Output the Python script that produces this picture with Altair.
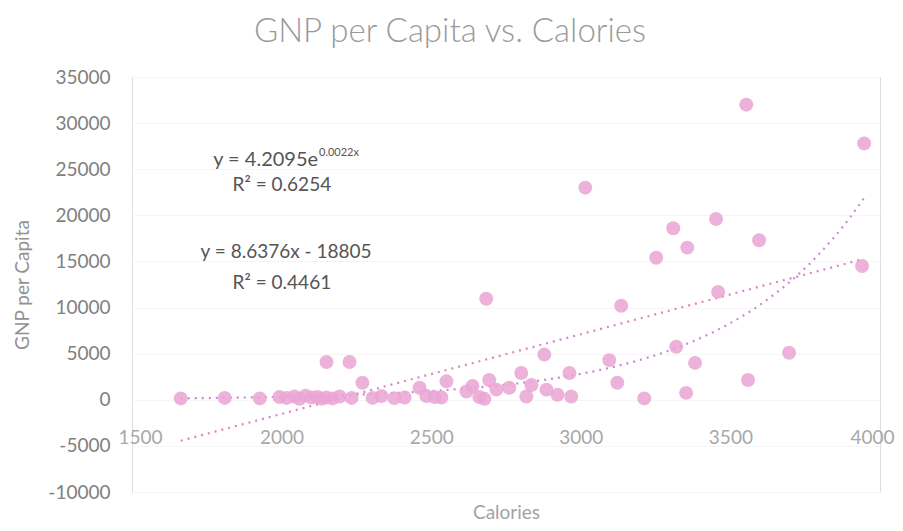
import altair as alt
import pandas as pd

# ---- data ----
calories = [1663, 1810, 1927, 1993, 2017, 2043, 2060, 2080, 2100, 2120,
            2134, 2150, 2170, 2194, 2150, 2227, 2270, 2234, 2304, 2334,
            2377, 2411, 2461, 2484, 2511, 2534, 2551, 2618, 2638, 2661,
            2678, 2694, 2684, 2718, 2761, 2801, 2818, 2835, 2878, 2885,
            2922, 2962, 2968, 3015, 3095, 3122, 3135, 3212, 3252, 3309,
            3319, 3352, 3356, 3382, 3452, 3459, 3553, 3559, 3596, 3696,
            3947, 3940]
gnp = [150, 200, 150, 300, 200, 350, 100, 450, 250, 300,
       120, 250, 150, 350, 4100, 4100, 1850, 200, 200, 400,
       180, 250, 1300, 400, 300, 250, 2000, 900, 1500, 300,
       100, 2150, 10950, 1100, 1300, 2900, 350, 1600, 4900, 1100,
       550, 2900, 350, 23000, 4300, 1850, 10200, 150, 15400, 18600,
       5750, 750, 16500, 4000, 19600, 11700, 32000, 2150, 17300, 5100,
       27800, 14500]

# trendline coefficients as shown on the chart
LIN_SLOPE = 8.6376
LIN_INTERCEPT = -18805
EXP_A = 4.2095
EXP_B = 0.002168  # shown rounded as 0.0022

x_ticks = [1500, 2000, 2500, 3000, 3500, 4000]
y_ticks = [-10000, -5000, 0, 5000, 10000, 15000, 20000, 25000, 30000, 35000]

ann_text = ["y = 4.2095e", "0.0022x", "R² = 0.6254", "y = 8.6376x - 18805", "R² = 0.4461"]
ann_x = [2122, 2125, 2001, 2015, 2001]
ann_y = [26025, 26800, 23313, 16049, 12687]
ann_kind = ["right", "sup", "center", "center", "center"]

df = pd.DataFrame({"Calories": calories, "GNP": gnp})
ann = pd.DataFrame({"text": ann_text, "x": ann_x, "y": ann_y, "kind": ann_kind})
xmin, xmax = min(calories), max(calories)

FONT = "Lato"
x_scale = alt.Scale(domain=[1500, 4000], nice=False, zero=False)
y_scale = alt.Scale(domain=[-10000, 35000], nice=False, zero=False)

x_axis = alt.Axis(title="Calories", values=x_ticks, labelExpr="'' + datum.value",
                  grid=False, labelFlush=True, labelFlushOffset=14, labelOverlap=False,
                  domain=False, ticks=False, tickSize=0, offset=-92, labelPadding=28,
                  labelFontSize=19, labelColor="#a8a8a8", labelFont=FONT,
                  titleFontSize=19, titleColor="#a3a3a3", titleFont=FONT,
                  titleFontWeight="normal", titleY=112, titleBaseline="middle")
y_axis = alt.Axis(title="GNP per Capita", values=y_ticks, labelExpr="'' + datum.value",
                  grid=True, gridColor="#f5f5f5", domain=False, ticks=False, tickSize=0,
                  labelPadding=22, labelFontSize=19, labelColor="#808080", labelFont=FONT,
                  labelOverlap=False,
                  titleFontSize=19, titleColor="#929292", titleFont=FONT,
                  titleFontWeight="normal", titleX=-110, titleBaseline="middle")

points = alt.Chart(df).mark_circle(size=195, color="#eaa5d3", opacity=0.85).encode(
    x=alt.X("Calories:Q", scale=x_scale, axis=x_axis),
    y=alt.Y("GNP:Q", scale=y_scale, axis=y_axis),
)

seq = alt.Chart(alt.sequence(0, 1.0001, 0.01, as_="t")).transform_calculate(
    Calories=f"{xmin} + datum.t * ({xmax} - {xmin})"
)
lin = seq.transform_calculate(
    GNP=f"{LIN_SLOPE} * datum.Calories + ({LIN_INTERCEPT})"
).mark_line(color="#dc84c4", strokeDash=[2, 5], strokeWidth=2.2).encode(
    x=alt.X("Calories:Q", scale=x_scale), y=alt.Y("GNP:Q", scale=y_scale))
expo = seq.transform_calculate(
    GNP=f"{EXP_A} * exp({EXP_B} * datum.Calories)"
).mark_line(color="#c98bd0", strokeDash=[2, 5], strokeWidth=2.2).encode(
    x=alt.X("Calories:Q", scale=x_scale), y=alt.Y("GNP:Q", scale=y_scale))

def ann_layer(kind, align, size):
    return alt.Chart(ann).transform_filter(alt.datum.kind == kind).mark_text(
        align=align, baseline="middle", font=FONT, fontSize=size, color="#555555"
    ).encode(x=alt.X("x:Q", scale=x_scale), y=alt.Y("y:Q", scale=y_scale), text="text:N")

texts = (ann_layer("right", "right", 20) + ann_layer("sup", "left", 11)
         + ann_layer("center", "center", 19))

chart = alt.layer(lin, expo, points, texts).properties(
    width=748, height=415,
    title=alt.TitleParams("GNP per Capita vs. Calories", font=FONT, fontSize=33,
                          fontWeight=300, color="#9a9a9a", offset=19, dx=-56,
                          anchor="middle"),
    autosize=alt.AutoSizeParams(type="none"),
    padding={"left": 124, "top": 69, "right": 15, "bottom": 31},
).configure_view(stroke=None).configure(font=FONT)

chart.save("out.html", embed_options={"renderer": "svg", "actions": False})
